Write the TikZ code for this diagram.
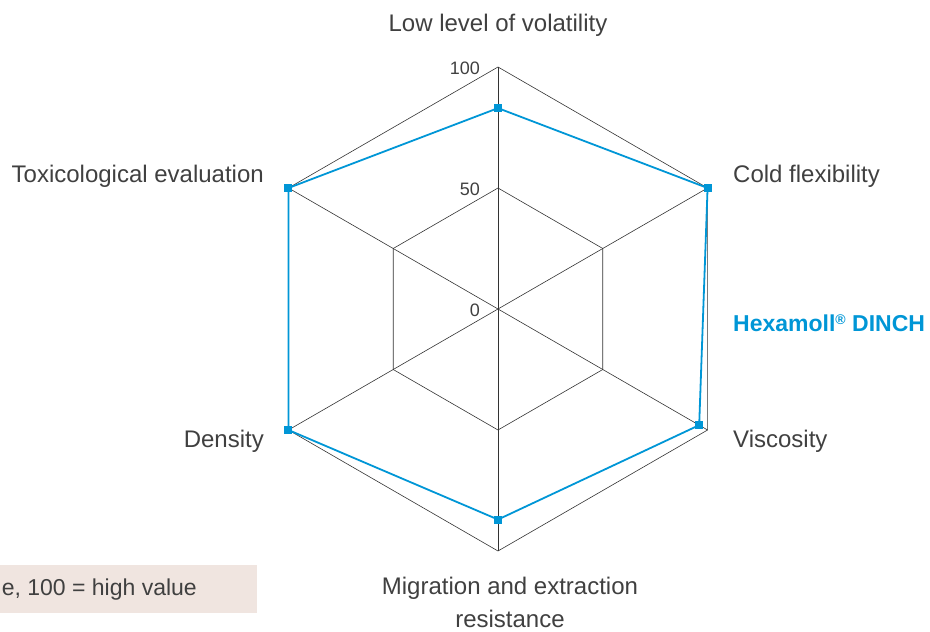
\documentclass[tikz,border=0pt]{standalone}
\usepackage{fontspec}
\setmainfont{Liberation Sans}
\usetikzlibrary{positioning}

\begin{document}
\begin{tikzpicture}[x=1pt,y=1pt]

		    \definecolor{gridcolor}{rgb}{0.20,0.20,0.20}
		    \definecolor{labelcolor}{rgb}{0.25,0.25,0.25}
		    \definecolor{dinchcolor}{rgb}{0.00,0.59,0.84}
		    \definecolor{notecolor}{rgb}{0.94,0.90,0.88}
		    \tikzset{axislabel/.style={text=labelcolor,font=\fontsize{24}{33}\selectfont,inner sep=0pt},
		             scalelabel/.style={text=labelcolor,font=\fontsize{18}{21}\selectfont,inner sep=0pt,anchor=east},
		             datamark/.style={fill=dinchcolor,minimum size=8pt,inner sep=0pt}}

		    \useasboundingbox (-498,-323) rectangle (432,309);

		    % note box (cut at the left edge)
		    \fill[notecolor] (-498,-256) rectangle (-241,-304);
		    \node(note) [axislabel,anchor=east,font=\fontsize{23}{26}\selectfont] at (-301,-281) {e, 100 = high value};

		    % grid
		    \coordinate (mid) at (0,0);
		    \foreach \a in {90,30,...,-210} {\draw[gridcolor,line width=0.6pt] (mid) -- (\a:242);}
		    \draw[gridcolor,line width=0.6pt] (90:242) \foreach \a in {30,-30,...,-210} {-- (\a:242)} -- cycle;
		    \draw[gridcolor,line width=0.6pt] (90:121) \foreach \a in {30,-30,...,-210} {-- (\a:121)} -- cycle;

		    \node(s100) [scalelabel] at (-18,241) {100};
		    \node(s50) [scalelabel] at (-18,120) {50};
		    \node(s0) [scalelabel] at (-18,-1) {0};

		    % Hexamoll DINCH values
		    \coordinate (vol) at (90:{0.83*242});
		    \coordinate (cold) at (30:242);
		    \coordinate (visc) at (-30:{0.96*242});
		    \coordinate (migr) at (-90:{0.87*242});
		    \coordinate (dens) at (-150:242);
		    \coordinate (tox) at (150:242);
		    \draw[dinchcolor,line width=1.8pt,line join=round] (vol) -- (cold) -- (visc) -- (migr) -- (dens) -- (tox) -- cycle;
		    \foreach \p in {vol,cold,visc,migr,dens,tox} {\node[datamark] at (\p) {};}

		    % axis labels
		    \node(lvol) [axislabel] at (0,284) {Low level of volatility};
		    \node(lcold) [axislabel,anchor=west] at (235,133) {Cold flexibility};
		    \node(ltox) [axislabel,anchor=east] at (-234,133) {Toxicological evaluation};
		    \node(lvisc) [axislabel,anchor=west] at (235,-132) {Viscosity};
		    \node(ldens) [axislabel,anchor=east] at (-234,-132) {Density};
		    \node(lmigr) [axislabel,align=center] at (12,-293) {Migration and extraction\\resistance};
		    \node(dinch) [axislabel,anchor=west,text=dinchcolor,font=\fontsize{23}{26}\selectfont\bfseries] at (235,-14) {Hexamoll{\fontsize{14}{14}\selectfont\raisebox{0.45em}{®}} DINCH};

\end{tikzpicture}
\end{document}
